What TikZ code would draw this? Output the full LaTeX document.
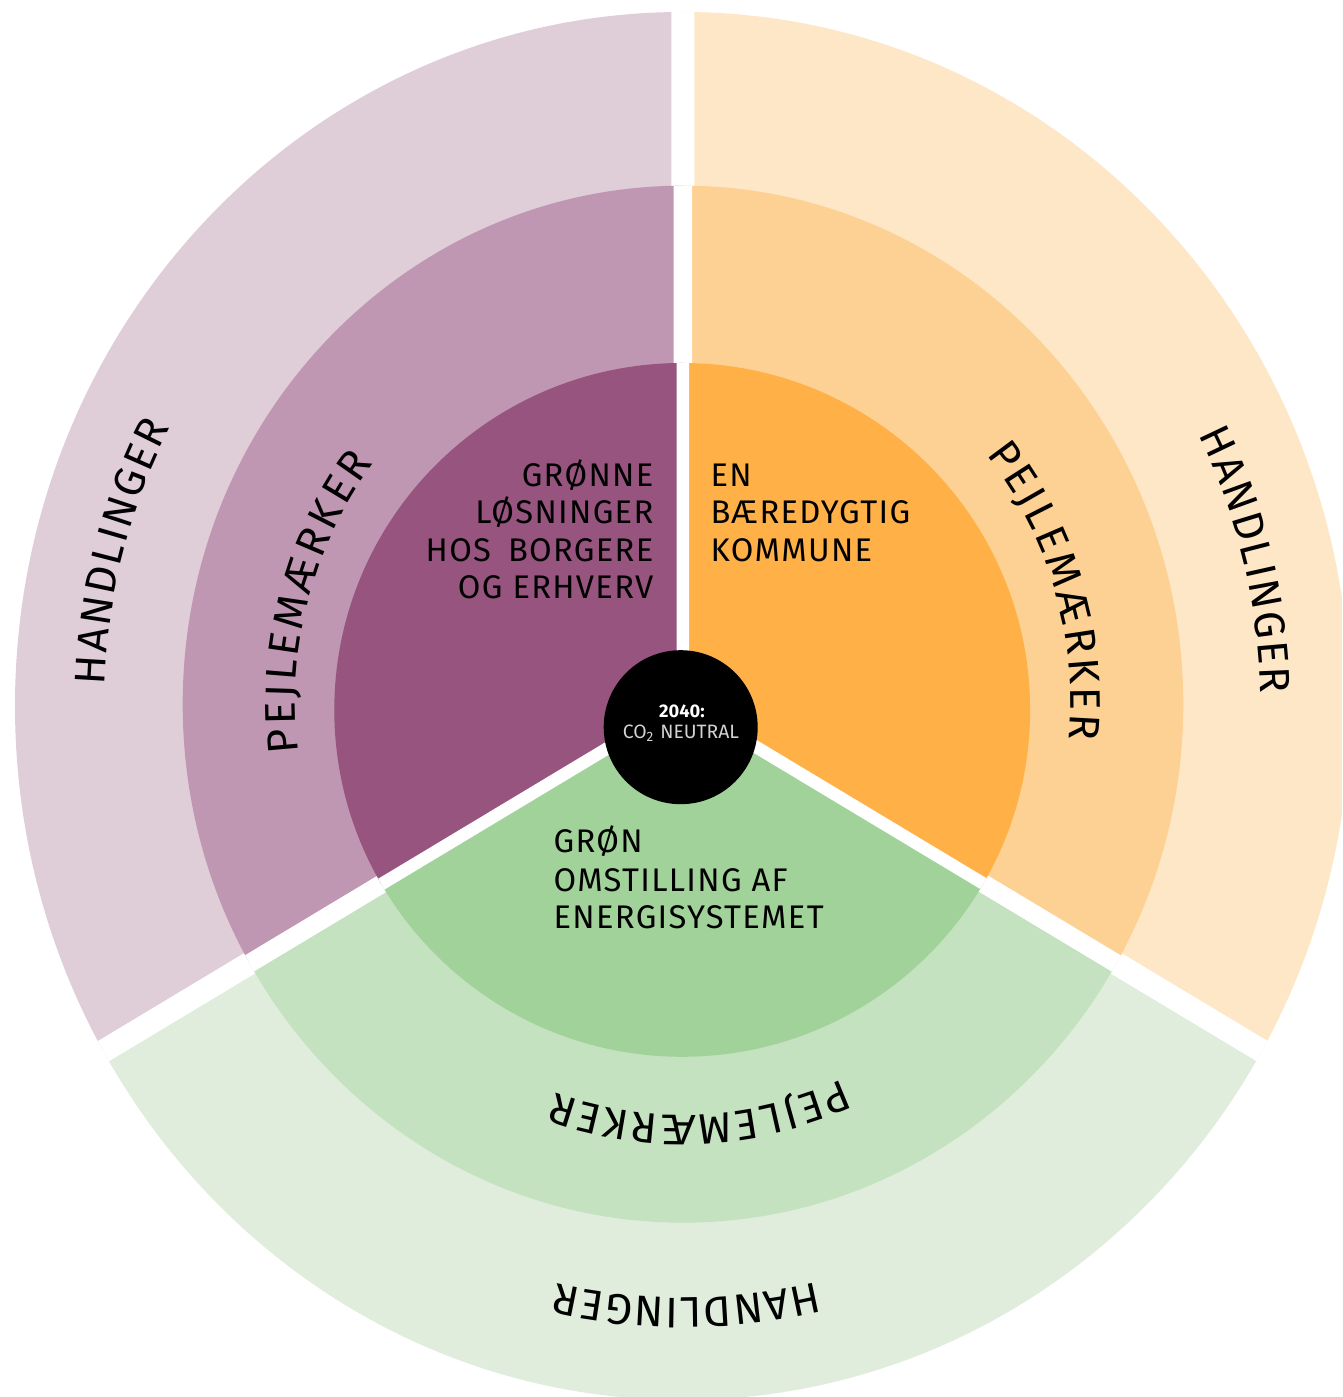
\documentclass[tikz,border=0pt]{standalone}
\usepackage{fontspec}
\setmainfont{Fira Sans}
\newfontfamily\curvefont{Fira Sans}
\newfontfamily\centrefont[LetterSpace=4]{Fira Sans}
\newcommand{\curvestyle}{\curvefont\fontsize{12.2}{15}\selectfont}
\newcommand{\centrestyle}{\centrefont\fontsize{9.3}{11}\selectfont}
\usetikzlibrary{calc}
\definecolor{puO}{HTML}{DFCDD8}
\definecolor{puM}{HTML}{C097B2}
\definecolor{puI}{HTML}{96547E}
\definecolor{orO}{HTML}{FEE7C7}
\definecolor{orM}{HTML}{FDD193}
\definecolor{orI}{HTML}{FFB147}
\definecolor{grO}{HTML}{E0EDDC}
\definecolor{grM}{HTML}{C5E2C0}
\definecolor{grI}{HTML}{A1D299}
\definecolor{co2grey}{HTML}{D2D2D2}
\tikzset{
  centretext/.style={inner sep=0pt, font=\centrestyle, text=black},
  arcletter/.style={inner sep=0pt, anchor=base, font=\curvestyle, text=black},
}
% #1 name prefix, #2 centre, #3 rx, #4 ry, #5 middle angle, #6 extra gap (pt), #7 letters
\newcommand{\arclabel}[7]{%
  \gdef\arcTot{0}%
  \foreach \ch in {#7}{%
    \curvestyle\pgfmathsetmacro\arcW{width("\ch")}%
    \pgfmathsetmacro\arcT{\arcTot+\arcW+#6}%
    \xdef\arcTot{\arcT}%
  }%
  \pgfmathsetmacro\arcTotal{\arcTot-#6}%
  \xdef\arcTotal{\arcTotal}%
  \gdef\arcCum{0}%
  \foreach \ch [count=\i] in {#7}{%
    \curvestyle\pgfmathsetmacro\arcW{width("\ch")}%
    \pgfmathsetmacro\arcS{(\arcCum+\arcW/2-\arcTotal/2)/0.28453}%
    \pgfmathsetmacro\arcA{#5-\arcS/(0.5*(#3+#4))*180/pi}%
    \node[arcletter, rotate=\arcA-90] (#1\i) at ($(#2)+({#3*cos(\arcA)},{#4*sin(\arcA)})$) {\ch};
    \pgfmathsetmacro\arcT{\arcCum+\arcW+#6}%
    \xdef\arcCum{\arcT}%
  }%
}
\begin{document}
\begin{tikzpicture}[x=0.01cm,y=0.01cm]
\useasboundingbox (0,0) rectangle (1342,1397);
\clip (0,0) rectangle (1342,1397);
\coordinate (P) at (682.8,694);
\coordinate (Co) at (682.5,691);
\coordinate (Cm) at (683,692.8);
\coordinate (Ci) at (682.2,687.1);
% outer ring
\begin{scope}
\clip (Co) ellipse [x radius=667.5, y radius=694];
\fill[puO] (P) -- ($(P)+(90:2000)$) -- ($(P)+(150:2000)$) -- ($(P)+(211:2000)$) -- cycle;
\fill[orO] (P) -- ($(P)+(90:2000)$) -- ($(P)+(30:2000)$) -- ($(P)+(329:2000)$) -- cycle;
\fill[grO] (P) -- ($(P)+(211:2000)$) -- ($(P)+(270:2000)$) -- ($(P)+(329:2000)$) -- cycle;
\draw[white, line width=0.23cm] (P) -- ($(P)+(90:2000)$) (P) -- ($(P)+(211:2000)$) (P) -- ($(P)+(329:2000)$);
\end{scope}
% middle ring
\begin{scope}
\clip (Cm) ellipse [x radius=500.3, y radius=518.5];
\fill[puM] (P) -- ($(P)+(90:2000)$) -- ($(P)+(150:2000)$) -- ($(P)+(211:2000)$) -- cycle;
\fill[orM] (P) -- ($(P)+(90:2000)$) -- ($(P)+(30:2000)$) -- ($(P)+(329:2000)$) -- cycle;
\fill[grM] (P) -- ($(P)+(211:2000)$) -- ($(P)+(270:2000)$) -- ($(P)+(329:2000)$) -- cycle;
\draw[white, line width=0.185cm] (P) -- ($(P)+(90:2000)$) (P) -- ($(P)+(211:2000)$) (P) -- ($(P)+(329:2000)$);
\end{scope}
% inner ring
\begin{scope}
\clip (Ci) ellipse [x radius=347.9, y radius=346.9];
\fill[puI] (P) -- ($(P)+(90:2000)$) -- ($(P)+(150:2000)$) -- ($(P)+(211:2000)$) -- cycle;
\fill[orI] (P) -- ($(P)+(90:2000)$) -- ($(P)+(30:2000)$) -- ($(P)+(329:2000)$) -- cycle;
\fill[grI] (P) -- ($(P)+(211:2000)$) -- ($(P)+(270:2000)$) -- ($(P)+(329:2000)$) -- cycle;
\draw[white, line width=0.125cm] (P) -- ($(P)+(90:2000)$) (P) -- ($(P)+(211:2000)$) (P) -- ($(P)+(329:2000)$);
\end{scope}
% curved labels
\arclabel{hp}{Co}{578}{601}{165.2}{0.45}{H,A,N,D,L,I,N,G,E,R}
\arclabel{ho}{Co}{578}{601}{14.0}{0.45}{H,A,N,D,L,I,N,G,E,R}
\arclabel{hg}{Co}{578}{592}{270.4}{0.5}{H,A,N,D,L,I,N,G,E,R}
\arclabel{pp}{Cm}{387.5}{401.5}{165}{0.8}{P,E,J,L,E,M,Æ,R,K,E,R}
\arclabel{po}{Cm}{387.5}{401.5}{16.7}{0.75}{P,E,J,L,E,M,Æ,R,K,E,R}
\arclabel{pg}{Cm}{387.5}{411}{272.5}{0.85}{P,E,J,L,E,M,Æ,R,K,E,R}
% centre texts
\node[centretext, anchor=base east] (l1) at (654,910.3) {GRØNNE};
\node[centretext, anchor=base east] (l2) at (654,873) {LØSNINGER};
\node[centretext, anchor=base east] (l3) at (654,835.3) {HOS\hspace{2pt} BORGERE};
\node[centretext, anchor=base east] (l4) at (654,798) {OG ERHVERV};
\node[centretext, anchor=base west] (r1) at (710,910.3) {EN};
\node[centretext, anchor=base west] (r2) at (710,873) {BÆREDYGTIG};
\node[centretext, anchor=base west] (r3) at (710,835.3) {KOMMUNE};
\node[centretext, anchor=base west] (g1) at (553,544) {GRØN};
\node[centretext, anchor=base west] (g2) at (553,505.3) {OMSTILLING AF};
\node[centretext, anchor=base west] (g3) at (553,468.7) {ENERGISYSTEMET};
% centre disc
\fill[black] (680.7,669.8) circle [radius=77];
\node[inner sep=0pt, anchor=base, text=white, font=\fontsize{5.2}{6}\selectfont\bfseries] (yr) at (682,679.7) {2040:};
\node[inner sep=0pt, anchor=base, text=co2grey, font=\fontsize{5.5}{7}\selectfont] (co) at (681,658.7) {CO\textsubscript{2} NEUTRAL};
\end{tikzpicture}
\end{document}
